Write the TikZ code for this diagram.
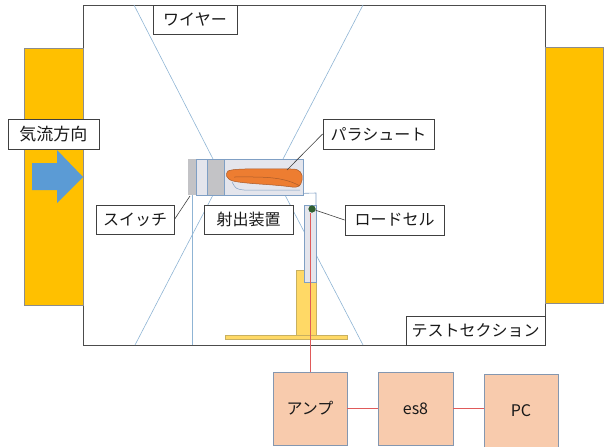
\documentclass[tikz,border=0pt]{standalone}
\usepackage{fontspec}
\setmainfont{Noto Sans CJK JP}
\usepackage{xcolor}

\definecolor{ductyellow}{HTML}{FFC000}
\definecolor{ductedge}{HTML}{8C8C8C}
\definecolor{flowblue}{HTML}{5B9BD5}
\definecolor{wireblue}{HTML}{8FB4D4}
\definecolor{devedge}{HTML}{7F9FC4}
\definecolor{devfill}{HTML}{E4E5EC}
\definecolor{switchgray}{HTML}{C3C3C6}
\definecolor{chuteorange}{HTML}{ED7D31}
\definecolor{chuteedge}{HTML}{A85A2A}
\definecolor{standyellow}{HTML}{FFD966}
\definecolor{standedge}{HTML}{C8B060}
\definecolor{cellgreen}{HTML}{2F5F2F}
\definecolor{signalred}{HTML}{E05A5A}
\definecolor{unitfill}{HTML}{F8CBAD}
\definecolor{unitedge}{HTML}{8497B0}

\begin{document}
\begin{tikzpicture}[x=1pt,y=-1pt,
  labelbox/.style={draw=black!75, fill=white, line width=0.8pt, inner sep=0pt,
    text=black!90, font=\fontsize{16}{18}\selectfont},
  unitbox/.style={draw=unitedge, fill=unitfill, line width=0.8pt, inner sep=0pt,
    minimum width=74pt, minimum height=73pt, text=black!90,
    font=\fontsize{16}{18}\selectfont},
  wire/.style={draw=wireblue, line width=0.6pt},
  lead/.style={draw=black!75, line width=0.6pt},
  signal/.style={draw=signalred, line width=0.7pt}]
  \useasboundingbox (0,0) rectangle (605,447);

  % test section and wind tunnel ducts
  \draw[black!70, line width=0.9pt] (83,5) rectangle (545,345);
  \draw[ductedge, fill=ductyellow] (24,48) rectangle (83,305);
  \draw[ductedge, fill=ductyellow] (545,47) rectangle (603,303);
  \fill[flowblue] (32,163) -- (57,163) -- (57,150) -- (83,177) -- (57,203)
    -- (57,190) -- (32,190) -- cycle;

  % suspension wires
  \coordinate (wTL) at (134,5);
  \coordinate (wTR) at (363,5);
  \coordinate (wBL) at (135,345);
  \coordinate (wBR) at (363,345);
  \coordinate (wB)  at (192,345);
  \draw[wire] (wTL) -- (213,159);
  \draw[wire] (wTR) -- (283,159);
  \draw[wire] (wBL) -- (213,195);
  \draw[wire] (wBR) -- (285,195);
  \draw[wire] (wB) -- (192,195);

  % stand
  \draw[standedge, fill=standyellow, line width=0.4pt] (296,270) rectangle (316,335);
  \draw[standedge, fill=standyellow, line width=0.4pt] (225,335) rectangle (347,339);

  % ejection device
  \fill[switchgray] (188,159) rectangle (196,195);
  \node[draw=devedge, fill=devfill, line width=0.7pt, minimum width=107pt,
    minimum height=36pt, inner sep=0pt] (eject) at (249.5,177) {};
  \draw[devedge, fill=switchgray, line width=0.6pt] (207,159) rectangle (224,195);
  \draw[devedge, line width=0.5pt] (232,182) .. controls (236,189) .. (244,190)
    -- (300,190);
  \draw[chuteedge, fill=chuteorange, line width=0.5pt] (228,171)
    .. controls (234,168) and (262,169) .. (292,169)
    .. controls (300,169) and (303,173) .. (302,180)
    .. controls (301,186) and (298,188) .. (292,187)
    .. controls (270,184) and (246,184) .. (233,181)
    .. controls (226,179) and (225,174) .. (228,171) -- cycle;
  \draw[chuteedge, line width=0.5pt] (234,177) .. controls (262,177) and (282,176) .. (300,186);

  % load cell holder
  \draw[devedge, line width=0.6pt] (eject.south east) ++(0,-2) -- (316,193) -- (316,205);
  \draw[devedge, fill=devfill, line width=0.6pt] (304,205) rectangle (316,282);

  % measurement chain
  \node[unitbox] (amp) at (310,408.5) {アンプ};
  \node[unitbox, minimum width=75pt] (es8) at (415.5,408.5) {es8};
  \node[unitbox] (pc) at (521,410.5) {PC};
  \node[circle, fill=cellgreen, minimum size=7pt, inner sep=0pt] (cell) at (312,209) {};
  \draw[signal] (cell.south -| amp.north) -- (amp.north);
  \node[circle, fill=cellgreen, minimum size=7pt, inner sep=0pt] at (cell) {};
  \draw[signal] (amp.east) -- (es8.west);
  \draw[signal] (es8.east) -- (es8.east -| pc.west);

  % labels
  \node[labelbox, minimum width=84pt, minimum height=29pt] (lblWire) at (195,19.5) {ワイヤー};
  \node[labelbox, minimum width=91pt, minimum height=30pt,
    font=\fontsize{17}{19}\selectfont] (lblFlow) at (53.5,134) {気流方向};
  \node[labelbox, minimum width=111pt, minimum height=30pt] (lblChute) at (378.5,134) {パラシュート};
  \node[labelbox, minimum width=78pt, minimum height=29pt] (lblSwitch) at (135,219.5) {スイッチ};
  \node[labelbox, minimum width=89pt, minimum height=29pt] (lblEject) at (248.5,219.5) {射出装置};
  \node[labelbox, minimum width=99pt, minimum height=30pt] (lblCell) at (394.5,220) {ロードセル};
  \node[labelbox, minimum width=139pt, minimum height=29pt] (lblTest) at (475.5,330.5) {テストセクション};

  % leader lines
  \coordinate (swTip) at (190,196);
  \coordinate (chTip) at (287,170);
  \draw[lead] (lblSwitch.east) -- (swTip);
  \draw[lead] (lblChute.west) -- (chTip);
  \draw[lead] (cell) -- (lblCell.west);
\end{tikzpicture}
\end{document}
